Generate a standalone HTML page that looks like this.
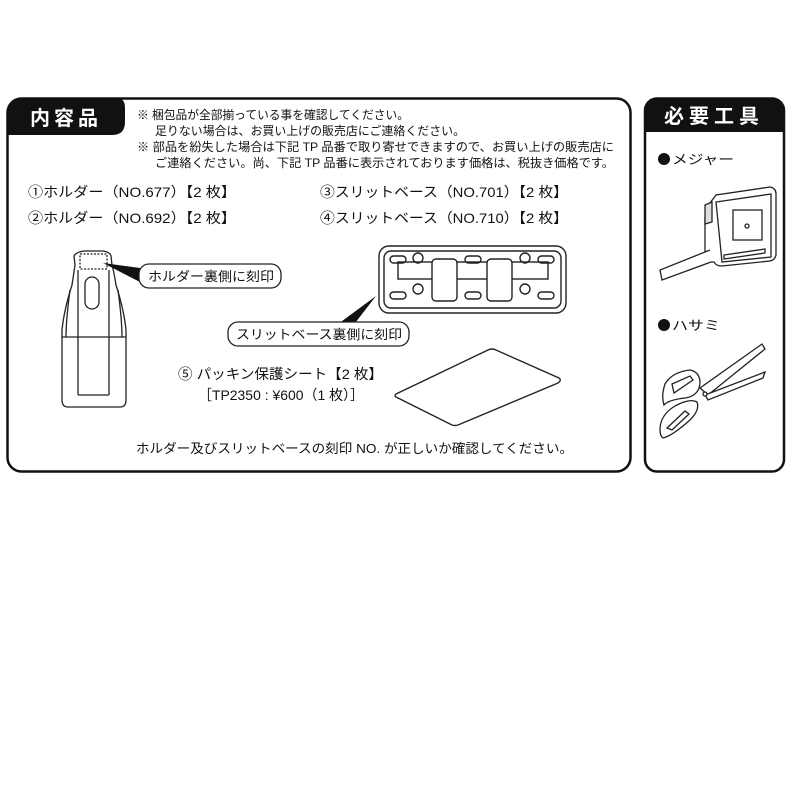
<!DOCTYPE html>
<html><head><meta charset="utf-8"><style>
html,body{margin:0;padding:0;background:#fff;}
svg{display:block}
text{font-family:"Liberation Sans","Noto Sans CJK JP",sans-serif;fill:#111}
</style></head><body>
<svg width="800" height="800" viewBox="0 0 800 800">
<!-- main box -->
<rect x="7.5" y="98.5" width="623" height="373" rx="14" fill="#fff" stroke="#111" stroke-width="2.5"/>
<path d="M7.5 135 V112 Q7.5 98.5 21 98.5 H118 Q125 98.5 125 108 V122 Q125 135 112 135 Z" fill="#111"/>
<text x="66" y="125" font-size="20" font-weight="bold" text-anchor="middle" style="fill:#fff" letter-spacing="4">内容品</text>
<g font-size="12">
<text x="137" y="119" textLength="272" lengthAdjust="spacingAndGlyphs">※  梱包品が全部揃っている事を確認してください。</text>
<text x="155" y="135" textLength="310" lengthAdjust="spacingAndGlyphs">足りない場合は、お買い上げの販売店にご連絡ください。</text>
<text x="137" y="151" textLength="477" lengthAdjust="spacingAndGlyphs">※  部品を紛失した場合は下記 TP 品番で取り寄せできますので、お買い上げの販売店に</text>
<text x="155" y="167" textLength="459" lengthAdjust="spacingAndGlyphs">ご連絡ください。尚、下記 TP 品番に表示されております価格は、税抜き価格です。</text>
</g>
<g font-size="14">
<text x="28" y="197" textLength="208" lengthAdjust="spacingAndGlyphs">①ホルダー（NO.677）【2 枚】</text>
<text x="28" y="223" textLength="208" lengthAdjust="spacingAndGlyphs">②ホルダー（NO.692）【2 枚】</text>
<text x="320" y="197" textLength="248" lengthAdjust="spacingAndGlyphs">③スリットベース（NO.701）【2 枚】</text>
<text x="320" y="223" textLength="248" lengthAdjust="spacingAndGlyphs">④スリットベース（NO.710）【2 枚】</text>
</g>
<!-- holder -->
<g fill="none" stroke="#222" stroke-width="1.3">
<path d="M74 256 Q76 252 84 251 H103 Q110 252 111 256 L112 265 Q114 272 116 285 Q124 310 126 330 V400 Q126 407 120 407 H68 Q62 407 62 400 V330 Q64 310 72 285 Q74 272 75 265 Z"/>
<rect x="80" y="254" width="27" height="15" stroke-dasharray="2 1.5"/>
<rect x="85" y="277" width="14" height="32" rx="7"/>
<path d="M78 270 V395 M109 270 V395 M62 337 H126 M70 290 Q66 320 66 337 M118 290 Q122 320 122 337"/>
<path d="M78 395 H109"/>
</g>
<path d="M103 263 L140 268 L140 282 Z" fill="#111"/>
<rect x="139" y="264" width="142" height="24" rx="10" fill="#fff" stroke="#222" stroke-width="1.3"/>
<text x="148" y="281" font-size="13" textLength="126" lengthAdjust="spacingAndGlyphs">ホルダー裏側に刻印</text>
<!-- slit base -->
<g fill="none" stroke="#222" stroke-width="1.4">
<rect x="379" y="246" width="187" height="67" rx="10"/>
<rect x="384" y="251" width="177" height="57" rx="7"/>
<rect x="398" y="262" width="150" height="17" fill="#fff"/>
<rect x="432" y="259" width="25" height="42" rx="4" fill="#fff"/>
<rect x="487" y="259" width="25" height="42" rx="4" fill="#fff"/>
<g>
<rect x="390" y="256" width="16" height="7" rx="3.5"/><rect x="465" y="256" width="16" height="7" rx="3.5"/><rect x="538" y="256" width="16" height="7" rx="3.5"/>
<rect x="390" y="292" width="16" height="7" rx="3.5"/><rect x="465" y="292" width="16" height="7" rx="3.5"/><rect x="538" y="292" width="16" height="7" rx="3.5"/>
<circle cx="418" cy="258" r="5"/><circle cx="525" cy="258" r="5"/><circle cx="418" cy="289" r="5"/><circle cx="525" cy="289" r="5"/>
</g>
</g>
<path d="M376 296 L334 327 L352 327 Z" fill="#111"/>
<rect x="228" y="322" width="181" height="24" rx="10" fill="#fff" stroke="#222" stroke-width="1.3"/>
<text x="236" y="339" font-size="13" textLength="166" lengthAdjust="spacingAndGlyphs">スリットベース裏側に刻印</text>
<!-- sheet -->
<path d="M396 394 L488 350 Q492 348 496 350 L559 378 Q562 380 558 383 L458 425 Q455 426 452 425 L396 397 Q394 396 396 394 Z" fill="#fff" stroke="#222" stroke-width="1.4"/>
<text x="178" y="379" font-size="14" textLength="205" lengthAdjust="spacingAndGlyphs">⑤ パッキン保護シート【2 枚】</text>
<text x="198" y="400" font-size="14" textLength="166" lengthAdjust="spacingAndGlyphs">［TP2350 : ¥600（1 枚）］</text>
<text x="136" y="453" font-size="13" textLength="437" lengthAdjust="spacingAndGlyphs">ホルダー及びスリットベースの刻印 NO. が正しいか確認してください。</text>

<!-- right box -->
<rect x="645" y="98.5" width="139" height="373" rx="12" fill="#fff" stroke="#111" stroke-width="2.5"/>
<path d="M645 132 V111 Q645 98.5 657 98.5 H772 Q784 98.5 784 111 V132 Z" fill="#111"/>
<text x="714" y="123" font-size="20" font-weight="bold" text-anchor="middle" style="fill:#fff" letter-spacing="5">必要工具</text>
<circle cx="664" cy="159" r="6" fill="#111"/>
<text x="672" y="164" font-size="13" textLength="62" lengthAdjust="spacingAndGlyphs">メジャー</text>
<circle cx="664" cy="325" r="6" fill="#111"/>
<text x="672" y="330" font-size="13" textLength="48" lengthAdjust="spacingAndGlyphs">ハサミ</text>
<!-- tape measure -->
<g fill="#fff" stroke="#222" stroke-width="1.3">
<path d="M707 207 L716 195 L770 187 Q776 188 776 194 V255 Q775 260 770 261 L722 266 Q716 266 714 262 L705 262 V217 Z"/>
<path d="M716 202 L771 194 V257 L722 262 Z"/>
<rect x="733" y="210" width="29" height="30"/>
<circle cx="747" cy="226" r="2"/>
<path d="M724 255 L765 249 V253 L724 259 Z"/>
<path d="M710 250 L660 270 L662 280 L711 262"/>
<path d="M705 205 L712 202 V222 L705 224 Z" fill="#ddd"/>
</g>
<!-- scissors -->
<g fill="#fff" stroke="#222" stroke-width="1.3">
<path d="M700 388 L762 344 L765 349 L708 395 Z"/>
<path d="M705 395 L765 372 L763 378 L708 400 Z"/>
<path d="M665 384 Q672 372 690 370 Q700 372 700 383 Q699 396 685 398 Q668 400 664 405 Q661 396 665 384 Z"/>
<path d="M672 384 L690 376 L693 380 L674 393 Z"/>
<path d="M660 430 Q660 415 675 406 Q690 398 697 402 Q700 410 690 420 Q672 436 663 438 Q660 436 660 430 Z"/>
<path d="M667 428 L685 411 L689 414 L672 430 Z"/>
<circle cx="705" cy="394" r="2"/>
</g>
</svg>
</body></html>
